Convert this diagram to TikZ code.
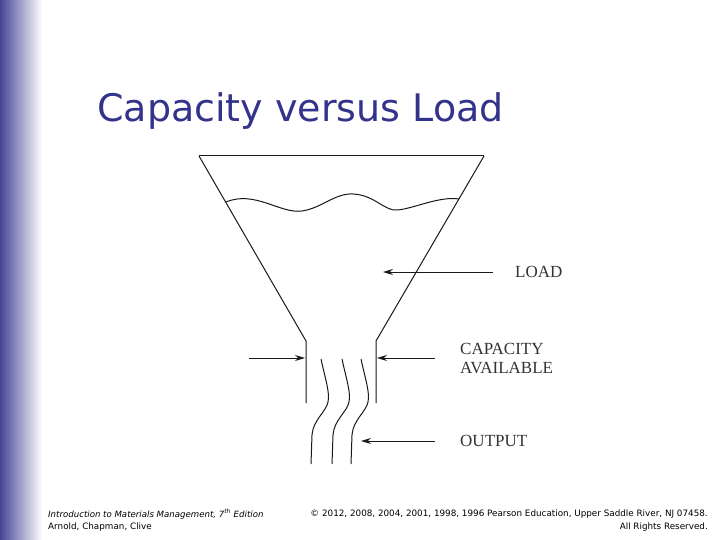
\documentclass[tikz,border=0pt]{standalone}
\usepackage{fontspec}
\usetikzlibrary{arrows.meta}
\setmainfont{DejaVu Sans}
\newfontfamily\serifl{Liberation Serif}
\definecolor{ttl}{RGB}{51,51,140}
\definecolor{bar}{RGB}{70,70,150}
\begin{document}
\begin{tikzpicture}[x=1pt,y=-1pt,
  ln/.style={line width=1pt,black!90},
  arr/.style={ln,-{Stealth[length=10pt,width=6pt]}},
  lbl/.style={anchor=west,font=\serifl\fontsize{17}{19}\selectfont,black!80,inner sep=0},
  foot/.style={font=\fontsize{8.8}{10}\selectfont,inner sep=0}]
\useasboundingbox (0,0) rectangle (720,540);
\fill[white] (0,0) rectangle (720,540);
\shade[left color=bar,right color=white] (0,0) rectangle (42,540);
\node[anchor=west,text=ttl,font=\fontsize{38}{42}\selectfont,inner sep=0] (title) at (97,111) {Capacity versus Load};
% funnel
\draw[ln] (199,156) -- (484,156);
\draw[ln] (199,156) -- (306,341) -- (306,403);
\draw[ln] (484,156) -- (376,341) -- (376,403);
\draw[ln] (226,202) .. controls (255,190) and (280,214) .. (302,211)
  .. controls (322,208) and (335,193) .. (353,194)
  .. controls (375,195) and (385,212) .. (398,210)
  .. controls (415,208) and (440,196) .. (459,199);
% streams
\foreach \dx in {0,21,40}{
\draw[ln] (321+\dx,359) .. controls (325+\dx,378) and (330+\dx,392) .. (328+\dx,402)
  .. controls (326+\dx,412) and (313+\dx,420) .. (312+\dx,435) -- (311+\dx,464);}
% labels and arrows
\node[lbl] (load) at (515,272) {LOAD};
\coordinate (ls) at (493,272);
\coordinate (lt) at (383,272);
\draw[arr] (ls) -- (lt);
\node[lbl,align=left] (cap) at (460,358) {CAPACITY\\AVAILABLE};
\coordinate (cl) at (305,358);
\coordinate (cr) at (377,358);
\coordinate (cs) at (249,358);
\coordinate (ce) at (435,358);
\draw[arr] (cs) -- (cl);
\draw[arr] (ce) -- (cr);
\node[lbl] (out) at (460,441) {OUTPUT};
\coordinate (os) at (435,441);
\coordinate (oe) at (361,441);
\draw[arr] (os) -- (oe);
% footer
\node[foot,anchor=west,font=\itshape\fontsize{8.6}{10}\selectfont] (f1) at (48,514) {Introduction to Materials Management, 7\textsuperscript{th} Edition};
\node[foot,anchor=west] (f2) at (48,527) {Arnold, Chapman, Clive};
\node[foot,anchor=east] (f3) at (708,514) {© 2012, 2008, 2004, 2001, 1998, 1996 Pearson Education, Upper Saddle River, NJ 07458.};
\node[foot,anchor=east] (f4) at (708,527) {All Rights Reserved.};
\end{tikzpicture}
\end{document}
